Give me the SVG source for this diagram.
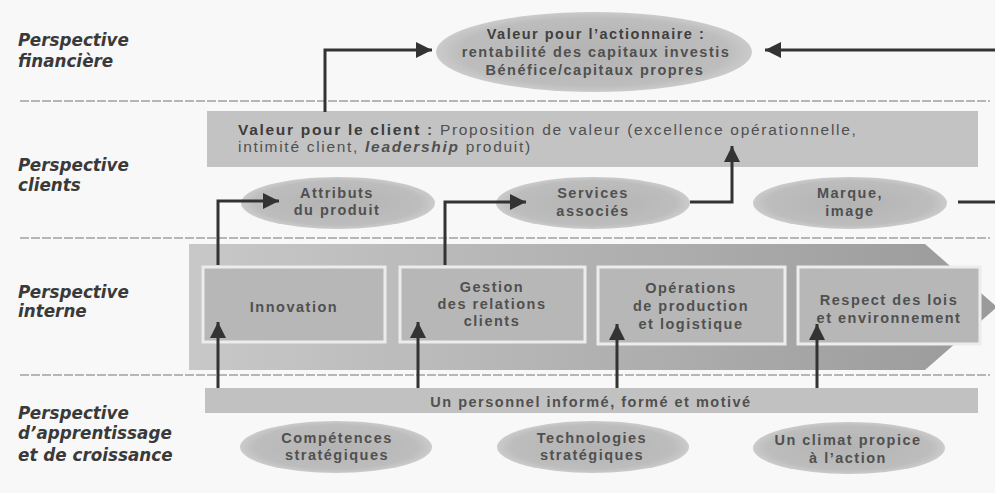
<svg xmlns="http://www.w3.org/2000/svg" width="995" height="493" viewBox="0 0 995 493">
<defs>
<style>
.lbl{font-family:"DejaVu Sans",sans-serif;font-weight:bold;font-style:oblique;font-size:16.8px;fill:#3a3a3a}
.t{font-family:"Liberation Sans",Arial,sans-serif;font-weight:bold;font-size:14.5px;letter-spacing:1.5px;fill:#505050;text-anchor:middle}
.tl{font-family:"Liberation Sans",Arial,sans-serif;font-size:15.5px;letter-spacing:1.7px;fill:#505050}
.ell{fill:url(#eg)}
.box{fill:#b7b7b7;stroke:#ececec;stroke-width:3}
.sep{stroke:#a0a0a0;stroke-width:1.5;stroke-dasharray:9 2;fill:none}
.con{fill:none;stroke:#333;stroke-width:3}
.arr{marker-end:url(#ah)}
</style>
<radialGradient id="eg" cx="50%" cy="50%" r="50%">
<stop offset="0" stop-color="#b3b3b3"/>
<stop offset="0.85" stop-color="#bdbdbd"/>
<stop offset="1" stop-color="#cbcbcb"/>
</radialGradient>
<linearGradient id="bandg" x1="0" y1="0" x2="1" y2="0">
<stop offset="0" stop-color="#c8c8c8"/>
<stop offset="1" stop-color="#9a9a9a"/>
</linearGradient>
<marker id="ah" markerUnits="userSpaceOnUse" markerWidth="20" markerHeight="20" refX="16" refY="8" orient="auto">
<path d="M0,0 L16,8 L0,16 Z" fill="#333"/>
</marker>
</defs>
<rect width="995" height="493" fill="#f8f8f8"/>

<g id="separators">
<line class="sep" x1="20" y1="101" x2="990" y2="101"/>
<line class="sep" x1="20" y1="238" x2="990" y2="238"/>
<line class="sep" x1="20" y1="375" x2="990" y2="375"/>
</g>

<g id="labels">
<text class="lbl" x="18" y="46">Perspective</text>
<text class="lbl" x="18" y="67">financière</text>
<text class="lbl" x="18" y="171">Perspective</text>
<text class="lbl" x="18" y="191">clients</text>
<text class="lbl" x="18" y="298">Perspective</text>
<text class="lbl" x="18" y="317">interne</text>
<text class="lbl" x="18" y="419">Perspective</text>
<text class="lbl" x="18" y="439">d’apprentissage</text>
<text class="lbl" x="18" y="461">et de croissance</text>
</g>

<g id="actionnaire">
<ellipse class="ell" cx="594" cy="52" rx="158" ry="40"/>
<text class="t" x="596" y="39" style="fill:#404040">Valeur pour l’actionnaire :</text>
<text class="t" x="596" y="57">rentabilité des capitaux investis</text>
<text class="t" x="595" y="75">Bénéfice/capitaux propres</text>
</g>

<g id="valeur-client">
<rect x="207" y="111" width="771" height="56" fill="#c3c3c3"/>
<text class="tl" x="238" y="135"><tspan font-weight="bold" fill="#3c3c3c">Valeur pour le client</tspan><tspan font-weight="bold"> :</tspan> Proposition de valeur (excellence opérationnelle,</text>
<text class="tl" x="238" y="152">intimité client, <tspan font-style="italic" font-weight="bold">leadership</tspan> produit)</text>
</g>

<g id="attributs">
<ellipse class="ell" cx="338" cy="203" rx="97" ry="26"/>
<text class="t" x="337" y="198">Attributs</text>
<text class="t" x="337" y="215">du produit</text>
</g>
<g id="services">
<ellipse class="ell" cx="593" cy="203" rx="97" ry="26"/>
<text class="t" x="593" y="198">Services</text>
<text class="t" x="593" y="216">associés</text>
</g>
<g id="marque">
<ellipse class="ell" cx="850" cy="203" rx="97" ry="26"/>
<text class="t" x="850" y="198">Marque,</text>
<text class="t" x="850" y="216">image</text>
</g>

<g id="processus-interne">
<polygon points="189,244 925,244 997,307 925,370 189,370" fill="url(#bandg)"/>
</g>
<g id="innovation">
<rect class="box" x="203" y="267" width="182" height="75"/>
<text class="t" x="294" y="312">Innovation</text>
</g>
<g id="gestion">
<rect class="box" x="400" y="267" width="185" height="75"/>
<text class="t" x="492" y="292">Gestion</text>
<text class="t" x="492" y="309">des relations</text>
<text class="t" x="492" y="326">clients</text>
</g>
<g id="operations">
<rect class="box" x="598" y="267" width="187" height="77"/>
<text class="t" x="691" y="293">Opérations</text>
<text class="t" x="691" y="311">de production</text>
<text class="t" x="691" y="329">et logistique</text>
</g>
<g id="respect">
<rect class="box" x="798" y="267" width="182" height="77"/>
<text class="t" x="889" y="305">Respect des lois</text>
<text class="t" x="889" y="323">et environnement</text>
</g>

<g id="personnel">
<rect x="205" y="388" width="773" height="25" fill="#c1c1c1"/>
<text class="t" x="591" y="407">Un personnel informé, formé et motivé</text>
</g>

<g id="competences">
<ellipse class="ell" cx="336" cy="447" rx="96" ry="26"/>
<text class="t" x="337" y="443">Compétences</text>
<text class="t" x="337" y="460">stratégiques</text>
</g>
<g id="technologies">
<ellipse class="ell" cx="593" cy="447" rx="96" ry="26"/>
<text class="t" x="592" y="443">Technologies</text>
<text class="t" x="592" y="460">stratégiques</text>
</g>
<g id="climat">
<ellipse class="ell" cx="849" cy="448" rx="96" ry="26"/>
<text class="t" x="848" y="445">Un climat propice</text>
<text class="t" x="848" y="463">à l’action</text>
</g>

<g id="connectors">
<path class="con arr" d="M325,112 V50 H432"/>
<path class="con arr" d="M995,50 H765"/>
<path class="con arr" d="M218,265 V201 H279"/>
<path class="con arr" d="M445,265 V202 H526"/>
<path class="con arr" d="M690,202 H732 V146"/>
<path class="con" d="M958,202 H995"/>
<path class="con arr" d="M218,388 V322"/>
<path class="con arr" d="M418,388 V322"/>
<path class="con arr" d="M617,388 V324"/>
<path class="con arr" d="M817,388 V324"/>
</g>
</svg>
